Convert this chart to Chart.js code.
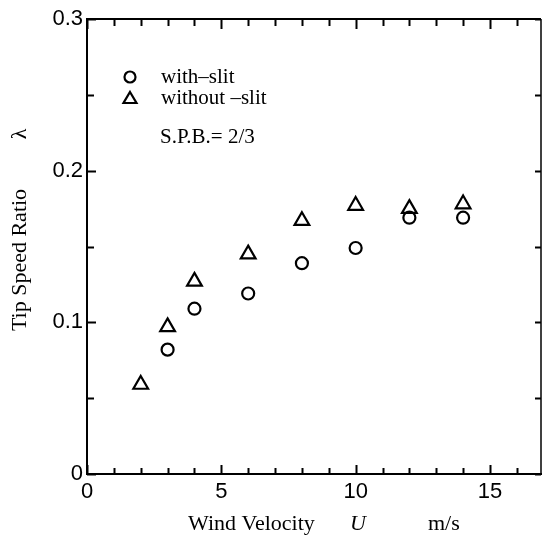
<!DOCTYPE html>
<html>
<head>
<meta charset="utf-8">
<script src="https://cdn.jsdelivr.net/npm/chart.js@4.4.1/dist/chart.umd.min.js"></script>
<style>
  html, body { margin: 0; padding: 0; background: #fff; }
  canvas { display: block; }
</style>
</head>
<body>
<canvas id="tsrChart" width="542" height="541"></canvas>
<script>
// wind velocity (m/s) and tip speed ratio
const slitVelocity = [3, 4, 6, 8, 10, 12, 14];
const slitRatio = [0.082, 0.109, 0.119, 0.139, 0.149, 0.169, 0.169];
const noSlitVelocity = [2, 3, 4, 6, 8, 10, 12, 14];
const noSlitRatio = [0.059, 0.097, 0.127, 0.145, 0.167, 0.177, 0.175, 0.178];

const xTickValues = [0, 5, 10, 15];
const yTickValues = [0, 0.1, 0.2, 0.3];
const xMinorTicks = [0, 1, 2, 3, 4, 5, 6, 7, 8, 9, 10, 11, 12, 13, 14, 15, 16];
const yMinorTicks = [0, 0.05, 0.1, 0.15, 0.2, 0.25, 0.3];

const serif = '"Liberation Serif", "Times New Roman", serif';
const sans = '"Liberation Sans", Arial, sans-serif';

const toPoints = (xs, ys) => xs.map((x, i) => ({ x: x, y: ys[i] }));

// inward ticks on all four sides, plus top/right frame, legend and titles
const framePlugin = {
    id: 'framePlugin',
    afterDraw(chart) {
        const ctx = chart.ctx;
        const area = chart.chartArea;
        const xs = chart.scales.x;
        const ys = chart.scales.y;
        ctx.save();
        ctx.strokeStyle = '#000';

        // top and right frame
        ctx.lineWidth = 2;
        ctx.beginPath();
        ctx.moveTo(area.left, area.top);
        ctx.lineTo(area.right, area.top);
        ctx.stroke();
        ctx.lineWidth = 1.5;
        ctx.beginPath();
        ctx.moveTo(area.right, area.top);
        ctx.lineTo(area.right, area.bottom);
        ctx.stroke();

        ctx.lineWidth = 2;
        xMinorTicks.forEach(v => {
            const px = Math.round(xs.getPixelForValue(v)) + 0.5;
            const major = v % 5 === 0;
            ctx.beginPath();
            ctx.moveTo(px, area.bottom);
            ctx.lineTo(px, area.bottom - (major ? 9 : 6));
            ctx.moveTo(px, area.top);
            ctx.lineTo(px, area.top + (major ? 10 : 7));
            ctx.stroke();
        });
        yMinorTicks.forEach(v => {
            const py = Math.round(ys.getPixelForValue(v)) + 0.5;
            const major = Math.abs(v * 10 - Math.round(v * 10)) < 1e-6;
            ctx.beginPath();
            ctx.moveTo(area.left, py);
            ctx.lineTo(area.left + (major ? 9 : 7), py);
            ctx.moveTo(area.right, py);
            ctx.lineTo(area.right - 6, py);
            ctx.stroke();
        });

        // legend
        const sets = chart.data.datasets;
        ctx.lineWidth = 2.2;
        ctx.beginPath();
        ctx.arc(130, 77, 5.5, 0, Math.PI * 2);
        ctx.stroke();
        ctx.beginPath();
        ctx.moveTo(130, 92);
        ctx.lineTo(136.5, 103);
        ctx.lineTo(123.5, 103);
        ctx.closePath();
        ctx.stroke();

        ctx.fillStyle = '#000';
        ctx.font = '21px ' + serif;
        ctx.textAlign = 'left';
        ctx.textBaseline = 'middle';
        ctx.fillText(sets[0].label, 161, 77);
        ctx.fillText(sets[1].label, 161, 98);
        ctx.fillText('S.P.B.= 2/3', 160, 137);

        // x title
        ctx.font = '22px ' + serif;
        ctx.textBaseline = 'alphabetic';
        ctx.fillText('Wind Velocity', 188, 530);
        ctx.font = 'italic 22px ' + serif;
        ctx.fillText('U', 350, 530);
        ctx.font = '22px ' + serif;
        ctx.fillText('m/s', 428, 530);

        // y title
        ctx.translate(26, 0);
        ctx.rotate(-Math.PI / 2);
        ctx.textAlign = 'center';
        ctx.fillText('Tip Speed Ratio', -260, 0);
        ctx.fillText('λ', -134, 0);
        ctx.restore();
    }
};

const tsrData = {
    datasets: [
        {
            label: 'with\u2013slit',
            data: toPoints(slitVelocity, slitRatio),
            pointStyle: 'circle',
            pointRadius: 6,
            borderColor: '#000',
            backgroundColor: 'rgba(0,0,0,0)',
            borderWidth: 2.2,
            showLine: false,
        },
        {
            label: 'without \u2013slit',
            data: toPoints(noSlitVelocity, noSlitRatio),
            pointStyle: 'triangle',
            pointRadius: 8.5,
            borderColor: '#000',
            backgroundColor: 'rgba(0,0,0,0)',
            borderWidth: 2.2,
            showLine: false,
        },
    ],
};

const configTsr = {
    type: 'scatter',
    data: tsrData,
    options: {
        responsive: false,
        animation: false,
        devicePixelRatio: 1,
        layout: {
            autoPadding: false,
            padding: { top: 19, right: 1, left: 0, bottom: 0 },
        },
        plugins: {
            legend: { display: false },
            tooltip: { enabled: false },
        },
        scales: {
            x: {
                type: 'linear',
                min: 0,
                max: 16.9,
                afterFit: (scale) => { scale.height = 67; },
                afterBuildTicks: (scale) => {
                    scale.ticks = xTickValues.map(v => ({ value: v }));
                },
                grid: { display: false, drawTicks: false },
                border: { display: true, color: '#000', width: 2 },
                ticks: {
                    padding: 5,
                    color: '#000',
                    font: { family: sans, size: 22 },
                    maxRotation: 0,
                    callback: (v) => String(v),
                },
            },
            y: {
                type: 'linear',
                min: 0,
                max: 0.3,
                afterFit: (scale) => { scale.width = 87; },
                afterBuildTicks: (scale) => {
                    scale.ticks = yTickValues.map(v => ({ value: v }));
                },
                grid: { display: false, drawTicks: false },
                border: { display: true, color: '#000', width: 2 },
                ticks: {
                    padding: 4,
                    color: '#000',
                    font: { family: sans, size: 22 },
                    callback: (v) => (v === 0 ? '0' : v.toFixed(1)),
                },
            },
        },
    },
    plugins: [framePlugin],
};

const ctx = document.getElementById('tsrChart').getContext('2d');
new Chart(ctx, configTsr);
</script>
</body>
</html>
